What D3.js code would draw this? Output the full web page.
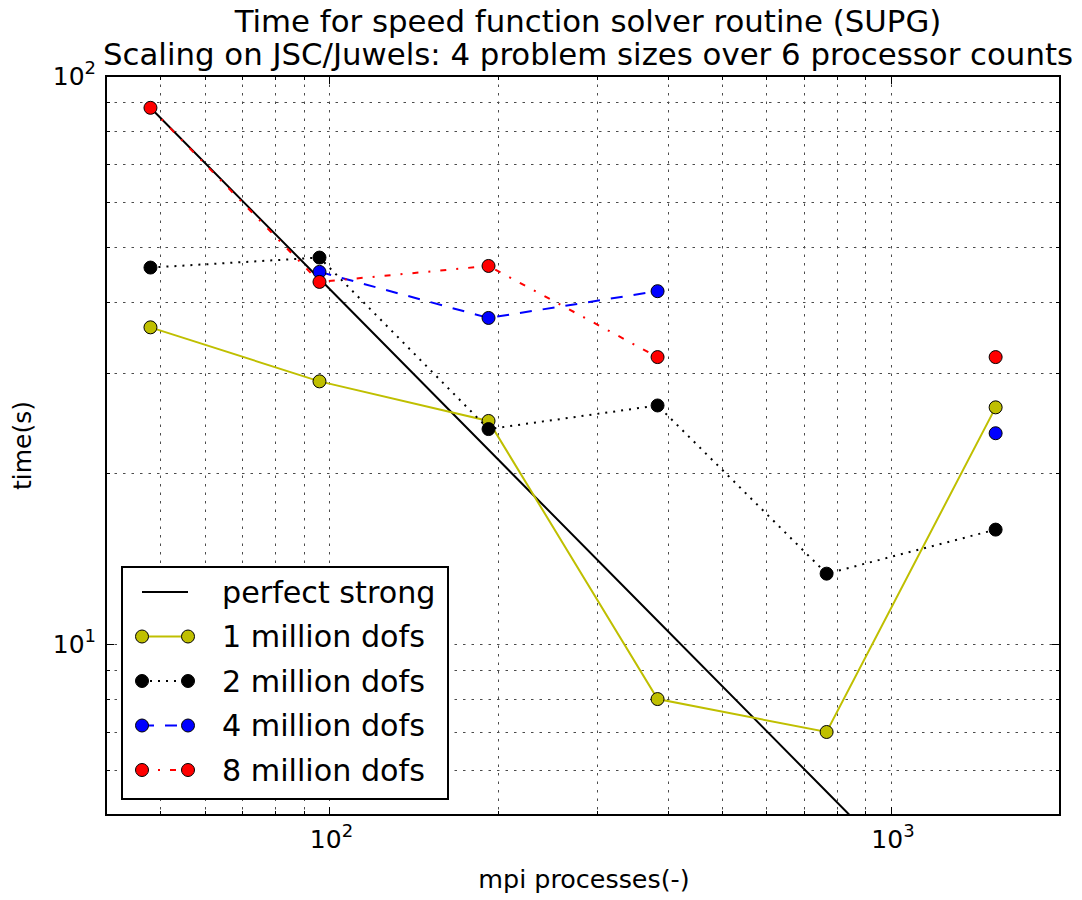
<!DOCTYPE html>
<html>
<head>
<meta charset="utf-8">
<script src="https://cdn.jsdelivr.net/npm/d3@7"></script>
<style>
  body { margin: 0; background: #fff; }
  svg { display: block; }
  text { font-family: "DejaVu Sans", sans-serif; fill: #000; }
</style>
</head>
<body>
<svg id="chart" width="1082" height="900"></svg>
<script>
// ---- data ----
const procs = [48, 96, 192, 384, 768, 1536];
const dofs1M = [36.1, 29.0, 24.7, 8.0, 7.0, 26.1];
const dofs2M = [46.0, 47.9, 23.9, 26.3, 13.3, 15.9];
const dofs4M = [null, 45.2, 37.5, 41.8, null, 23.5];
const dofs8M = [87.9, 43.4, 46.3, 32.0, null, 32.0];
const seriesNames = ["1 million dofs", "2 million dofs", "4 million dofs", "8 million dofs"];
const perfectName = "perfect strong";
const titleLines = [
  "Time for speed function solver routine (SUPG)",
  "Scaling on JSC/Juwels: 4 problem sizes over 6 processor counts"
];
const xLabel = "mpi processes(-)";
const yLabel = "time(s)";
const xMajor = [100, 1000];
const yMajor = [10, 100];

// ideal strong scaling from the largest problem's first measurement
const perfect = procs.map(p => dofs8M[0] * procs[0] / p);

// ---- layout ----
const W = 1082, H = 900;
const plot = { left: 106, right: 1060, top: 76, bottom: 815 };

const svg = d3.select("#chart");
svg.append("rect").attr("width", W).attr("height", H).attr("fill", "#fff");

const x = d3.scaleLog().domain([40, 2000]).range([plot.left, plot.right]);
const y = d3.scaleLog().domain([5, 100]).range([plot.bottom, plot.top]);

const xAll = x.ticks();
const yAll = y.ticks();

// ---- grid (major + minor, dotted) ----
const grid = svg.append("g").attr("stroke", "#000").attr("stroke-width", 1)
  .attr("stroke-dasharray", "2.5,6").attr("opacity", 0.7);
grid.selectAll("line.gx").data(xAll.filter(v => v > 40 && v < 2000)).join("line")
  .attr("x1", d => Math.round(x(d)) + 0.5).attr("x2", d => Math.round(x(d)) + 0.5)
  .attr("y1", plot.top).attr("y2", plot.bottom);
grid.selectAll("line.gy").data(yAll.filter(v => v > 5 && v < 100)).join("line")
  .attr("y1", d => Math.round(y(d)) + 0.5).attr("y2", d => Math.round(y(d)) + 0.5)
  .attr("x1", plot.left).attr("x2", plot.right);

// ---- ticks (inward on all four sides) ----
const isMajor = (v, arr) => arr.some(m => Math.abs(m - v) < 1e-9);
const ticks = svg.append("g").attr("stroke", "#000").attr("stroke-width", 1);
xAll.forEach(v => {
  const len = isMajor(v, xMajor) ? 8 : 4;
  const px = Math.round(x(v)) + 0.5;
  ticks.append("line").attr("x1", px).attr("x2", px).attr("y1", plot.bottom).attr("y2", plot.bottom - len);
  ticks.append("line").attr("x1", px).attr("x2", px).attr("y1", plot.top).attr("y2", plot.top + len);
});
yAll.forEach(v => {
  const len = isMajor(v, yMajor) ? 8 : 4;
  const py = Math.round(y(v)) + 0.5;
  ticks.append("line").attr("y1", py).attr("y2", py).attr("x1", plot.left).attr("x2", plot.left + len);
  ticks.append("line").attr("y1", py).attr("y2", py).attr("x1", plot.right).attr("x2", plot.right - len);
});

// ---- data layer ----
svg.append("defs").append("clipPath").attr("id", "plotClip")
  .append("rect").attr("x", plot.left).attr("y", plot.top)
  .attr("width", plot.right - plot.left).attr("height", plot.bottom - plot.top);
const dataLayer = svg.append("g").attr("clip-path", "url(#plotClip)");

const line = d3.line()
  .defined(d => d.t != null)
  .x(d => x(d.p)).y(d => y(d.t));

const styles = [
  { color: "#bfbf00", dash: null },
  { color: "#000000", dash: "2,6" },
  { color: "#0000ff", dash: "12,11" },
  { color: "#ff0000", dash: "6,10,2,10" }
];
const seriesValues = [dofs1M, dofs2M, dofs4M, dofs8M];

dataLayer.append("path")
  .datum(procs.map((p, i) => ({ p, t: perfect[i] })))
  .attr("d", line).attr("fill", "none").attr("stroke", "#000").attr("stroke-width", 2);

seriesValues.forEach((vals, s) => {
  const pts = procs.map((p, i) => ({ p, t: vals[i] }));
  const st = styles[s];
  dataLayer.append("path").datum(pts).attr("d", line)
    .attr("fill", "none").attr("stroke", st.color).attr("stroke-width", 2)
    .attr("stroke-dasharray", st.dash);
  dataLayer.selectAll(null).data(pts.filter(d => d.t != null)).join("circle")
    .attr("cx", d => x(d.p)).attr("cy", d => y(d.t)).attr("r", 6.5)
    .attr("fill", st.color).attr("stroke", "#000").attr("stroke-width", 1);
});

// ---- frame ----
svg.append("rect").attr("x", plot.left).attr("y", plot.top)
  .attr("width", plot.right - plot.left).attr("height", plot.bottom - plot.top)
  .attr("fill", "none").attr("stroke", "#000").attr("stroke-width", 2);

// ---- tick labels ----
xMajor.forEach(v => {
  const t = svg.append("text").attr("x", x(v) + 2).attr("y", plot.bottom + 33)
    .attr("text-anchor", "middle").attr("font-size", 25);
  t.append("tspan").text("10");
  t.append("tspan").attr("dy", -11).attr("font-size", 18).text(String(Math.round(Math.log10(v))));
});
yMajor.forEach(v => {
  const t = svg.append("text").attr("x", plot.left - 10).attr("y", y(v) + 9)
    .attr("text-anchor", "end").attr("font-size", 25);
  t.append("tspan").text("10");
  t.append("tspan").attr("dy", -11).attr("font-size", 18).text(String(Math.round(Math.log10(v))));
});

// ---- axis labels and title ----
const cx = (plot.left + plot.right) / 2;
svg.append("text").attr("x", cx + 1).attr("y", 888).attr("text-anchor", "middle")
  .attr("font-size", 25.4).text(xLabel);
svg.append("text").attr("transform", `translate(31,${(plot.top + plot.bottom) / 2}) rotate(-90)`)
  .attr("text-anchor", "middle").attr("font-size", 25).text(yLabel);
titleLines.forEach((s, i) => {
  svg.append("text").attr("x", cx + 5).attr("y", 32 + i * 32.5).attr("text-anchor", "middle")
    .attr("font-size", 30.8).text(s);
});

// ---- legend ----
const lg = svg.append("g");
const box = { x: 122, y: 567, w: 326, h: 232 };
lg.append("rect").attr("x", box.x).attr("y", box.y).attr("width", box.w).attr("height", box.h)
  .attr("fill", "#fff").attr("stroke", "#000").attr("stroke-width", 2);
const entries = [{ name: perfectName, color: "#000", dash: null, marker: false }]
  .concat(seriesNames.map((n, i) => ({ name: n, color: styles[i].color, dash: styles[i].dash, marker: true })));
const hx0 = 142, hx1 = 188, textX = 222, row0 = 592, rowGap = 44.5;
entries.forEach((e, i) => {
  const cy = row0 + i * rowGap;
  lg.append("line").attr("x1", hx0).attr("x2", hx1).attr("y1", cy).attr("y2", cy)
    .attr("stroke", e.color).attr("stroke-width", 2).attr("stroke-dasharray", e.dash);
  if (e.marker) {
    [hx0, hx1].forEach(mx => lg.append("circle").attr("cx", mx).attr("cy", cy).attr("r", 6.5)
      .attr("fill", e.color).attr("stroke", "#000").attr("stroke-width", 1));
  }
  lg.append("text").attr("x", textX).attr("y", cy + 10.5).attr("font-size", 30.2).text(e.name);
});
</script>
</body>
</html>
